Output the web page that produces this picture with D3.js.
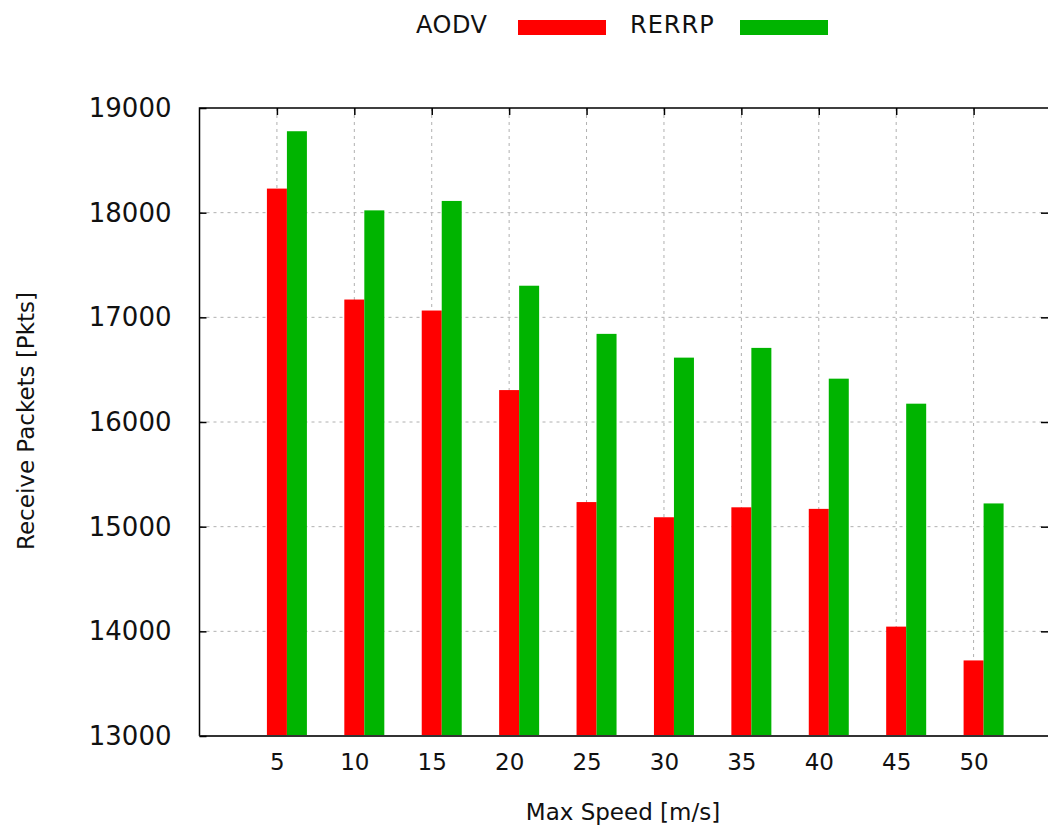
<!DOCTYPE html>
<html><head><meta charset="utf-8">
<script src="https://cdn.jsdelivr.net/npm/d3@7"></script>
<style>body{margin:0;background:#fff}text{font-family:"DejaVu Sans",sans-serif}</style>
</head><body><svg id="c" width="1048" height="827"></svg>
<script>
const categories = ["5","10","15","20","25","30","35","40","45","50"];
const aodv  = [18230,17170,17065,16305,15235,15090,15185,15170,14045,13722];
const rerrp = [18778,18022,18112,17302,16842,16615,16708,16414,16175,15222];
const yTicks = [13000,14000,15000,16000,17000,18000,19000];
const seriesNames = ["AODV","RERRP"];
const colors = ["#ff0000","#00b400"];

const svg = d3.select("#c");
const x = d3.scaleLinear().domain([-1,10]).range([199.5,1051]);
const y = d3.scaleLinear().domain([13000,19000]).range([736,108]);
const bw = 20;
const L=199.5, R=1047.5, T=108, B=736;

// grid
const g = svg.append("g");
g.selectAll(".hg").data(yTicks.slice(1,-1)).join("line")
 .attr("x1",L).attr("x2",R).attr("y1",d=>y(d)).attr("y2",d=>y(d))
 .attr("stroke","#b0b0b0").attr("stroke-width",1).attr("stroke-dasharray","3,4");
g.selectAll(".vg").data(categories).join("line")
 .attr("x1",(d,i)=>x(i)).attr("x2",(d,i)=>x(i)).attr("y1",T).attr("y2",B)
 .attr("stroke","#b0b0b0").attr("stroke-width",1).attr("stroke-dasharray","3,4");

// bars
[aodv,rerrp].forEach((vals,s)=>{
  svg.append("g").selectAll("rect").data(vals).join("rect")
   .attr("x",(d,i)=>x(i)-bw/2+s*bw).attr("width",bw)
   .attr("y",d=>y(d)).attr("height",d=>B-y(d))
   .attr("fill",colors[s]);
});

// border
svg.append("path").attr("d",`M${L},${B}V${T}H1051`).attr("fill","none").attr("stroke","#000").attr("stroke-width",1.5);
svg.append("line").attr("x1",L).attr("x2",1051).attr("y1",B).attr("y2",B).attr("stroke","#333").attr("stroke-width",2);

// axes via d3
const ya = svg.append("g").attr("transform",`translate(${L},0)`)
 .call(d3.axisLeft(y).tickValues(yTicks).tickSize(-7).tickPadding(28).tickFormat(d3.format("d")));
ya.select(".domain").remove();
ya.selectAll("text").attr("font-size",26).attr("font-family","DejaVu Sans").attr("fill","#111").attr("dy","0.33em");
const yr = svg.append("g").attr("transform",`translate(1048,0)`)
 .call(d3.axisRight(y).tickValues(yTicks.slice(1,-1)).tickSize(-7).tickFormat(""));
yr.select(".domain").remove();

const xa = svg.append("g").attr("transform",`translate(0,${B})`)
 .call(d3.axisBottom(x).tickValues(d3.range(categories.length)).tickSize(0).tickPadding(18).tickFormat(i=>categories[i]));
xa.select(".domain").remove();
xa.selectAll("text").attr("font-size",23).attr("font-family","DejaVu Sans").attr("fill","#111");
const xt = svg.append("g").attr("transform",`translate(0,${T})`)
 .call(d3.axisBottom(x).tickValues(d3.range(categories.length)).tickSize(7).tickFormat(""));
xt.select(".domain").remove();
svg.selectAll(".tick line").attr("stroke","#000").attr("stroke-width",1.5);

// titles
svg.append("text").attr("x",623).attr("y",820).attr("text-anchor","middle").attr("font-size",23).attr("fill","#111").text("Max Speed [m/s]");
svg.append("text").attr("transform","translate(34,421) rotate(-90)").attr("text-anchor","middle").attr("font-size",23).attr("fill","#111").text("Receive Packets [Pkts]");

// legend
const legX = [416,630], swX=[518,740];
seriesNames.forEach((n,i)=>{
  svg.append("text").attr("x",legX[i]).attr("y",33).attr("font-size",24).attr("letter-spacing",i? "1px":"0.5px").attr("fill","#111").text(n);
  svg.append("rect").attr("x",swX[i]).attr("y",20).attr("width",88).attr("height",15).attr("fill",colors[i]);
});
</script></body></html>
